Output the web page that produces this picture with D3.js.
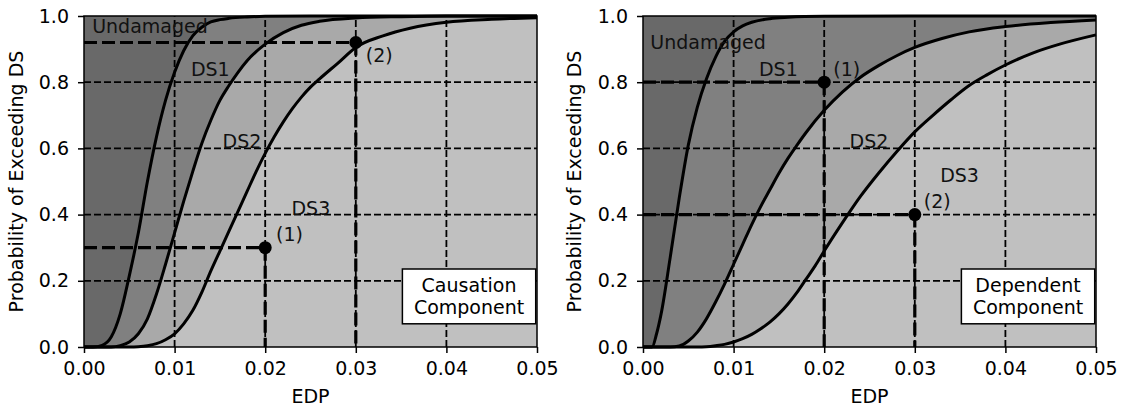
<!DOCTYPE html>
<html>
<head>
<meta charset="utf-8">
<script src="https://cdn.jsdelivr.net/npm/d3@7"></script>
<style>
  body { margin: 0; background: #fff; }
  text { font-family: "DejaVu Sans", sans-serif; }
</style>
</head>
<body>
<div id="chart"></div>
<script>
const width = 1129;
const height = 410;

// axis ticks
const edpTicks = [0, 0.01, 0.02, 0.03, 0.04, 0.05];
const probTicks = [0, 0.2, 0.4, 0.6, 0.8, 1.0];

// causation component fragility curves
const causDs1Edp = [0, 0.001, 0.002, 0.003, 0.004, 0.005, 0.006, 0.007, 0.008, 0.009, 0.010, 0.011, 0.012, 0.013, 0.014, 0.015, 0.016, 0.018, 0.020, 0.025, 0.05];
const causDs1Prob = [0, 0, 0.005, 0.03, 0.10, 0.215, 0.345, 0.50, 0.635, 0.745, 0.83, 0.895, 0.94, 0.966, 0.982, 0.989, 0.993, 0.997, 0.999, 1.0, 1.0];
const causDs2Edp = [0, 0.003, 0.004, 0.005, 0.006, 0.007, 0.008, 0.009, 0.010, 0.011, 0.012, 0.013, 0.014, 0.015, 0.016, 0.017, 0.018, 0.020, 0.022, 0.024, 0.026, 0.030, 0.035, 0.040, 0.05];
const causDs2Prob = [0, 0, 0.004, 0.015, 0.04, 0.085, 0.16, 0.25, 0.345, 0.44, 0.53, 0.615, 0.685, 0.745, 0.79, 0.83, 0.865, 0.915, 0.95, 0.972, 0.984, 0.994, 0.998, 1.0, 1.0];
const causDs3Edp = [0, 0.005, 0.006, 0.007, 0.008, 0.009, 0.010, 0.011, 0.012, 0.013, 0.014, 0.015, 0.016, 0.017, 0.018, 0.019, 0.020, 0.021, 0.022, 0.023, 0.024, 0.025, 0.026, 0.028, 0.030, 0.033, 0.036, 0.040, 0.045, 0.050];
const causDs3Prob = [0, 0, 0.001, 0.004, 0.01, 0.022, 0.04, 0.07, 0.11, 0.165, 0.23, 0.29, 0.35, 0.41, 0.47, 0.53, 0.585, 0.635, 0.68, 0.72, 0.755, 0.785, 0.81, 0.857, 0.905, 0.94, 0.963, 0.981, 0.99, 0.995];

// dependent component fragility curves
const depDs1Edp = [0, 0.001, 0.0015, 0.002, 0.003, 0.004, 0.005, 0.006, 0.007, 0.008, 0.009, 0.010, 0.011, 0.012, 0.014, 0.016, 0.020, 0.030, 0.05];
const depDs1Prob = [0, 0, 0.04, 0.10, 0.27, 0.45, 0.61, 0.725, 0.81, 0.875, 0.923, 0.952, 0.97, 0.981, 0.992, 0.996, 0.999, 1.0, 1.0];
const depDs2Edp = [0, 0.003, 0.004, 0.005, 0.006, 0.007, 0.008, 0.009, 0.010, 0.011, 0.012, 0.013, 0.014, 0.015, 0.016, 0.017, 0.018, 0.020, 0.022, 0.024, 0.026, 0.028, 0.030, 0.033, 0.036, 0.040, 0.045, 0.050];
const depDs2Prob = [0, 0, 0.003, 0.018, 0.045, 0.085, 0.135, 0.19, 0.25, 0.31, 0.37, 0.425, 0.475, 0.525, 0.57, 0.61, 0.648, 0.715, 0.77, 0.815, 0.85, 0.88, 0.905, 0.932, 0.952, 0.968, 0.98, 0.988];
const depDs3Edp = [0, 0.006, 0.007, 0.008, 0.009, 0.010, 0.011, 0.012, 0.013, 0.014, 0.015, 0.016, 0.017, 0.018, 0.019, 0.020, 0.022, 0.024, 0.026, 0.028, 0.030, 0.032, 0.034, 0.036, 0.038, 0.040, 0.043, 0.046, 0.050];
const depDs3Prob = [0, 0, 0.001, 0.004, 0.008, 0.015, 0.025, 0.038, 0.055, 0.075, 0.10, 0.13, 0.165, 0.205, 0.245, 0.29, 0.375, 0.455, 0.525, 0.59, 0.65, 0.70, 0.747, 0.79, 0.823, 0.852, 0.888, 0.915, 0.943];

// highlighted points
const causPointEdp = [0.02, 0.03];
const causPointProb = [0.3, 0.92];
const depPointEdp = [0.02, 0.03];
const depPointProb = [0.8, 0.4];

const fills = ["#696969", "#808080", "#a9a9a9", "#c0c0c0"];

const panels = [
  {
    left: 84,
    curves: [
      { edp: causDs1Edp, prob: causDs1Prob },
      { edp: causDs2Edp, prob: causDs2Prob },
      { edp: causDs3Edp, prob: causDs3Prob },
    ],
    pointEdp: causPointEdp,
    pointProb: causPointProb,
    labels: [
      { text: "Undamaged", x: 0.0009, y: 0.95 },
      { text: "DS1", x: 0.0118, y: 0.82 },
      { text: "DS2", x: 0.0153, y: 0.6 },
      { text: "DS3", x: 0.0229, y: 0.4 },
      { text: "(1)", x: 0.0212, y: 0.32 },
      { text: "(2)", x: 0.0311, y: 0.86 },
    ],
    box: ["Causation", "Component"],
    ylabelX: 22.5,
  },
  {
    left: 643,
    curves: [
      { edp: depDs1Edp, prob: depDs1Prob },
      { edp: depDs2Edp, prob: depDs2Prob },
      { edp: depDs3Edp, prob: depDs3Prob },
    ],
    pointEdp: depPointEdp,
    pointProb: depPointProb,
    labels: [
      { text: "Undamaged", x: 0.0008, y: 0.9 },
      { text: "DS1", x: 0.0128, y: 0.82 },
      { text: "DS2", x: 0.0228, y: 0.6 },
      { text: "DS3", x: 0.0328, y: 0.5 },
      { text: "(1)", x: 0.021, y: 0.82 },
      { text: "(2)", x: 0.031, y: 0.42 },
    ],
    box: ["Dependent", "Component"],
    ylabelX: 580.5,
  },
];

const svg = d3
  .select("#chart")
  .append("svg")
  .attr("width", width)
  .attr("height", height);

panels.forEach((p) => drawPanel(p));

function drawPanel(p) {
  const x = d3.scaleLinear().domain([0, 0.05]).range([p.left, p.left + 453]);
  const y = d3.scaleLinear().domain([0, 1]).range([347, 16]);
  const g = svg.append("g");

  // undamaged background, then stacked damage states on top
  g.append("rect")
    .attr("x", x(0))
    .attr("y", y(1))
    .attr("width", x(0.05) - x(0))
    .attr("height", y(0) - y(1))
    .attr("fill", fills[0]);

  const area = d3
    .area()
    .x((d) => x(d[0]))
    .y0(y(0))
    .y1((d) => y(d[1]))
    .curve(d3.curveMonotoneX);
  const line = d3
    .line()
    .x((d) => x(d[0]))
    .y((d) => y(d[1]))
    .curve(d3.curveMonotoneX);

  p.curves.forEach((c, i) => {
    const pts = c.edp.map((e, j) => [e, c.prob[j]]);
    g.append("path").datum(pts).attr("fill", fills[i + 1]).attr("d", area);
  });

  // grid
  g.selectAll(".vgrid")
    .data(edpTicks.slice(1, -1))
    .enter()
    .append("line")
    .attr("x1", (d) => x(d))
    .attr("x2", (d) => x(d))
    .attr("y1", y(0))
    .attr("y2", y(1))
    .attr("stroke", "#000")
    .attr("stroke-width", 1.8)
    .attr("stroke-dasharray", "7,3");
  g.selectAll(".hgrid")
    .data(probTicks.slice(1, -1))
    .enter()
    .append("line")
    .attr("x1", x(0))
    .attr("x2", x(0.05))
    .attr("y1", (d) => y(d))
    .attr("y2", (d) => y(d))
    .attr("stroke", "#000")
    .attr("stroke-width", 1.8)
    .attr("stroke-dasharray", "7,3");

  // curves
  p.curves.forEach((c) => {
    const pts = c.edp.map((e, j) => [e, c.prob[j]]);
    g.append("path")
      .datum(pts)
      .attr("fill", "none")
      .attr("stroke", "#000")
      .attr("stroke-width", 3)
      .attr("d", line);
  });

  // guide lines to the highlighted points
  p.pointEdp.forEach((e, i) => {
    const pr = p.pointProb[i];
    g.append("line")
      .attr("x1", x(0)).attr("x2", x(e))
      .attr("y1", y(pr)).attr("y2", y(pr))
      .attr("stroke", "#000").attr("stroke-width", 3.2)
      .attr("stroke-dasharray", "13,5");
    g.append("line")
      .attr("x1", x(e)).attr("x2", x(e))
      .attr("y1", y(pr)).attr("y2", y(0))
      .attr("stroke", "#000").attr("stroke-width", 3.2)
      .attr("stroke-dasharray", "13,5");
    g.append("circle")
      .attr("cx", x(e))
      .attr("cy", y(pr))
      .attr("r", 6.5)
      .attr("fill", "#000");
  });

  // labels
  g.selectAll(".lab")
    .data(p.labels)
    .enter()
    .append("text")
    .attr("x", (d) => x(d.x))
    .attr("y", (d) => y(d.y))
    .attr("font-size", "19px")
    .attr("fill", "#111")
    .text((d) => d.text);

  // text box
  const bx = x(0.0425);
  const bt = g.append("text")
    .attr("text-anchor", "middle")
    .attr("font-size", "19px");
  bt.append("tspan").attr("x", bx).attr("y", 291.5).text(p.box[0]);
  bt.append("tspan").attr("x", bx).attr("dy", "1.2em").text(p.box[1]);
  const bb = bt.node().getBBox();
  g.insert("rect", function () { return bt.node(); })
    .attr("x", bb.x - 11.5)
    .attr("y", bb.y - 4.5)
    .attr("width", bb.width + 23)
    .attr("height", bb.height + 10)
    .attr("fill", "#fff")
    .attr("stroke", "#000")
    .attr("stroke-width", 1.5);

  // frame
  g.append("rect")
    .attr("x", x(0))
    .attr("y", y(1))
    .attr("width", x(0.05) - x(0))
    .attr("height", y(0) - y(1))
    .attr("fill", "none")
    .attr("stroke", "#000")
    .attr("stroke-width", 1.5);

  // axes
  const xAxis = g.append("g")
    .attr("transform", "translate(0," + y(0) + ")")
    .call(d3.axisBottom(x).tickValues(edpTicks).tickFormat(d3.format(".2f")).tickSize(6).tickPadding(9));
  const yAxis = g.append("g")
    .attr("transform", "translate(" + x(0) + ",0)")
    .call(d3.axisLeft(y).tickValues(probTicks).tickFormat(d3.format(".1f")).tickSize(6).tickPadding(9));
  [xAxis, yAxis].forEach((a) => {
    a.select(".domain").remove();
    a.selectAll(".tick line").attr("stroke-width", 1.5);
    a.selectAll("text").attr("font-size", "19px").attr("font-family", "DejaVu Sans").attr("fill", "#000");
  });

  g.append("text")
    .attr("x", (x(0) + x(0.05)) / 2)
    .attr("y", 403)
    .attr("text-anchor", "middle")
    .attr("font-size", "19px")
    .text("EDP");
  g.append("text")
    .attr("transform", "translate(" + p.ylabelX + "," + (y(0) + y(1)) / 2 + ") rotate(-90)")
    .attr("text-anchor", "middle")
    .attr("font-size", "19px")
    .text("Probability of Exceeding DS");
}
</script>
</body>
</html>
